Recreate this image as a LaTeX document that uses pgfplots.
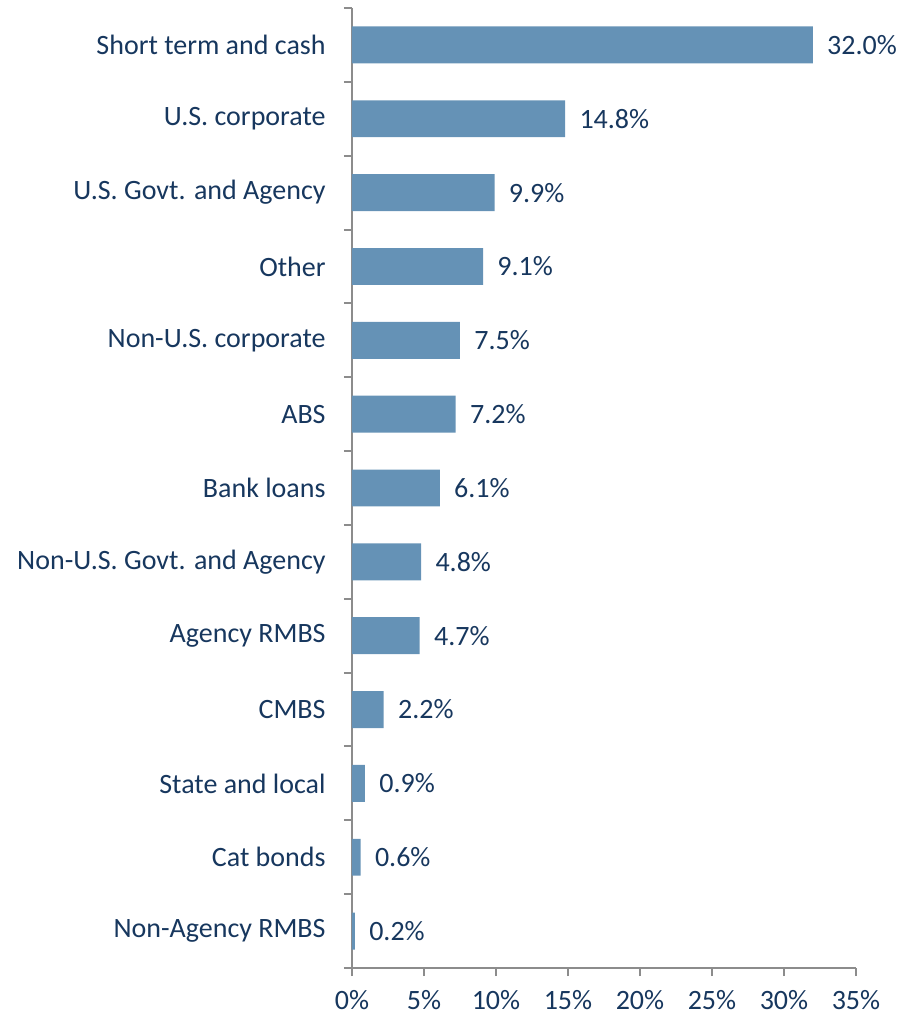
\documentclass[border=0pt]{standalone}
\usepackage{pgfplots}
\pgfplotsset{compat=1.18}
\usepackage{fontspec}
\setmainfont{Carlito}
\definecolor{barblue}{HTML}{6592B6}
\definecolor{txt}{HTML}{17375E}
\definecolor{axgray}{HTML}{8C8C8C}
\begin{document}
\begin{tikzpicture}
\useasboundingbox (-176pt,-25pt) rectangle (278pt,484pt);
\begin{axis}[
  at={(0,0)}, anchor=south west,
  scale only axis,
  width=252pt, height=480pt,
  xbar, bar width=0.5,
  xmin=0, xmax=35,
  ymin=-0.5, ymax=12.5,
  y dir=reverse,
  axis x line*=bottom, axis y line*=left,
  axis line style={axgray, line width=1pt},
  tick align=outside,
  major tick length=4pt,
  minor tick length=4pt,
  xtick={0,5,...,35},
  xticklabel={\pgfmathprintnumber{\tick}\%},
  xtick style={axgray, line width=1pt},
  xticklabel style={inner sep=0pt, anchor=north, yshift=-7pt},
  ytick={0,...,12},
  yticklabels={Short term and cash, U.S. corporate, U.S. Govt. and Agency, Other, Non-U.S. corporate, ABS, Bank loans, Non-U.S. Govt. and Agency, Agency RMBS, CMBS, State and local, Cat bonds, Non-Agency RMBS},
  major y tick style={draw=none},
  minor ytick={-0.5,0.5,...,12.5},
  minor y tick style={axgray, line width=1pt},
  yticklabel style={inner sep=0pt, anchor=east, xshift=-9pt},
  /pgf/number format/assume math mode=true,
  tick label style={font=\fontsize{14}{17}\selectfont, text=txt},
  nodes near coords={\pgfmathprintnumber[fixed,fixed zerofill,precision=1]{\pgfplotspointmeta}\%},
  nodes near coords style={font=\fontsize{14}{17}\selectfont, text=txt, anchor=west, inner sep=0pt, xshift=7pt},
  point meta=x,
  clip=false,
]
\addplot[fill=barblue, draw=none] coordinates {
 (32.0,0) (14.8,1) (9.9,2) (9.1,3) (7.5,4) (7.2,5) (6.1,6) (4.8,7) (4.7,8) (2.2,9) (0.9,10) (0.6,11) (0.2,12)
};
\end{axis}
\end{tikzpicture}
\end{document}
